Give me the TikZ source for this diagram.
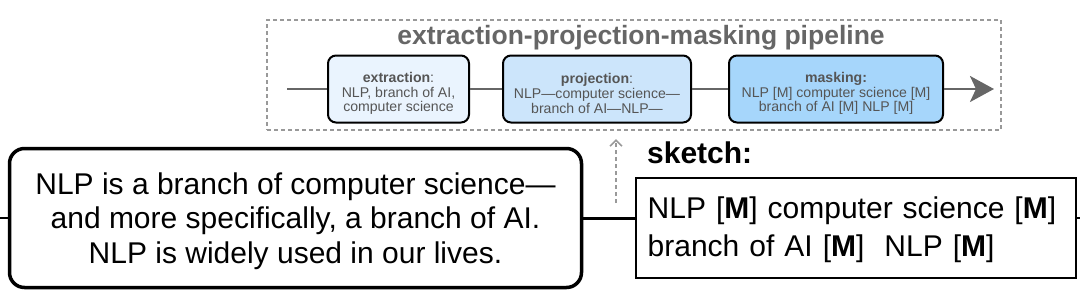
\documentclass[tikz,border=0pt]{standalone}
\usepackage{fontspec}
\setmainfont{Liberation Sans}
\usetikzlibrary{arrows.meta}
\definecolor{txtgray}{HTML}{555555}
\definecolor{linegray}{HTML}{666666}
\definecolor{dashgray}{HTML}{999999}
\definecolor{fillA}{HTML}{EAF4FE}
\definecolor{fillB}{HTML}{CCE5FB}
\definecolor{fillC}{HTML}{A6D6FB}
\tikzset{
  stage/.style={draw=black, line width=2pt, rounded corners=8pt, minimum height=67pt, inner sep=0pt},
  stagetext/.style={align=center, text=txtgray, font=\fontsize{14.1}{14.6}\selectfont, inner sep=0pt},
  pipeline/.style={draw=dashgray, line width=1.4pt, dash pattern=on 4pt off 3pt},
  flow/.style={draw=linegray, line width=2.8pt},
}
\begin{document}
\begin{tikzpicture}[x=1pt,y=-1pt]
\useasboundingbox (0,0) rectangle (1080,301);
% pipeline frame
\node[pipeline, minimum width=734pt, minimum height=110pt, inner sep=0pt] (pipe) at (634,75) {};
\node[text=linegray, font=\fontsize{26.5}{28}\selectfont\bfseries] (title) at (641,38) {extraction-projection-masking pipeline};
% stages
\node[stage, fill=fillA, minimum width=141pt] (ext) at (398.5,89) {};
\node[stage, fill=fillB, minimum width=188pt] (proj) at (597,89) {};
\node[stage, fill=fillC, minimum width=214pt] (mask) at (836,89) {};
\node[stagetext] (ext-t) at ([yshift=-4.5pt]ext.center) {\textbf{extraction}:\\NLP, branch of AI,\\computer science};
\node[stagetext] (proj-t) at ([yshift=-4.5pt]proj.center) {\textbf{projection}:\\NLP—computer science—\\branch of AI—NLP—};
\node[stagetext] (mask-t) at ([yshift=-4.5pt]mask.center) {\textbf{masking:}\\NLP [M] computer science [M]\\branch of AI [M] NLP [M]};
\coordinate (pin) at (287,89);
\coordinate (pout) at (994,89);
\draw[flow] (pin) -- (ext.west);
\draw[flow] (ext.east) -- (proj.west);
\draw[flow] (proj.east) -- (mask.west);
\draw[flow, -{Triangle[length=24pt,width=26pt,inset=6pt]}] (mask.east) -- (pout);
% input text
\node[draw=black, line width=3.5pt, rounded corners=15pt, minimum width=572pt, minimum height=139pt] (input) at (295.5,218) {};
\node[align=center, font=\fontsize{30}{34.5}\selectfont, inner sep=0pt] (input-t) at ([yshift=-3pt]input.center)
  {NLP is a branch of computer science—\\and more specifically, a branch of AI.\\NLP is widely used in our lives.};
% sketch
\node[draw=black, line width=2pt, minimum width=440pt, minimum height=100pt] (sketch) at (855.5,228) {};
\node[anchor=west, align=left, text width=420pt, inner sep=0pt, font=\fontsize{30}{38}\selectfont] (sketch-t) at ([xshift=13pt,yshift=-2pt]sketch.west)
  {NLP [\textbf{M}] computer science [\textbf{M}]\\branch of AI [\textbf{M}]\ \ NLP [\textbf{M}]};
\node[anchor=west, font=\fontsize{30}{34}\selectfont\bfseries, inner sep=0pt] (sklabel) at (647,153) {sketch:};
\coordinate (lin) at (0,218);
\coordinate (rout) at (1080,218);
\draw[line width=2pt] (lin) -- (input.west);
\draw[line width=3pt] (input.east) -- (input.east -| sketch.west);
\draw[line width=2pt] (rout -| sketch.east) -- (rout);
% dashed feedback arrow
\coordinate (fa) at (616,203);
\coordinate (fb) at (616,139);
\draw[draw=dashgray, line width=1.6pt, dash pattern=on 4pt off 3pt, -{Straight Barb[length=6pt,width=12pt]}] (fa) -- (fb);
\end{tikzpicture}
\end{document}
